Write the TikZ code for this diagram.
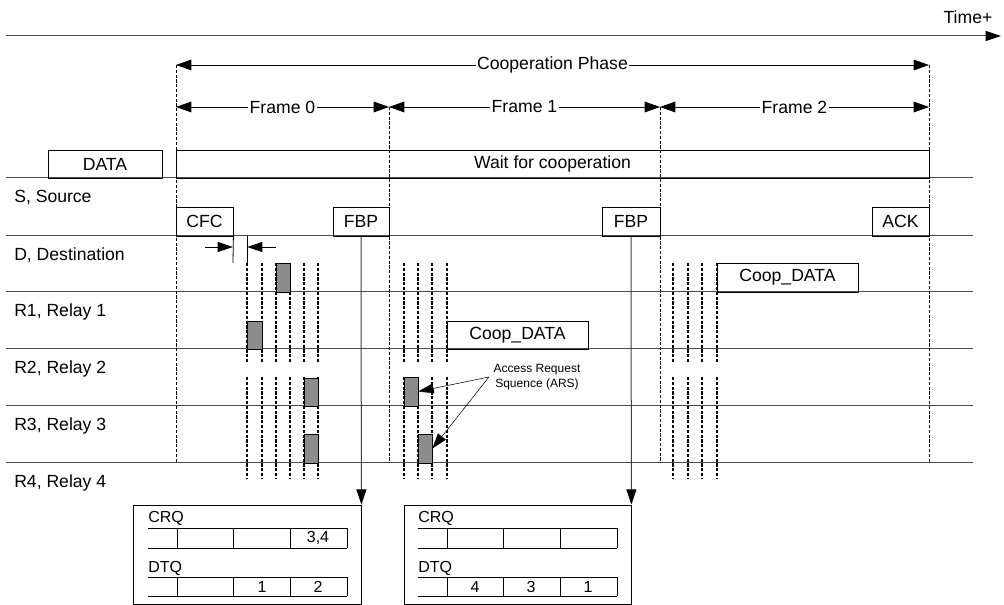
\documentclass[tikz,border=0pt]{standalone}
\usepackage{fontspec}
\setmainfont{Liberation Sans}
\usetikzlibrary{arrows.meta,fit}
\tikzset{
  arr/.style={-{Triangle[length=11.5pt,width=7.5pt,color=black]}},
  dimarrow/.style={{Triangle[length=11.5pt,width=8pt]}-{Triangle[length=11.5pt,width=8pt]},line width=0.6pt},
  lane/.style={line width=0.75pt,black!70},
  bound/.style={line width=0.7pt,dash pattern=on 2.4pt off 1.2pt},
  slot/.style={line width=0.9pt,dash pattern=on 2.4pt off 1.2pt},
  msg/.style={draw,line width=0.6pt,inner sep=0pt},
  msgtext/.style={label={[inner sep=0pt,font=\fontsize{13.2}{15}\selectfont]center:#1}},
  slotbox/.style={draw,line width=0.6pt,fill=black!45,inner sep=0pt},
  lbl/.style={fill=white,inner sep=1pt,font=\fontsize{13.2}{15}\selectfont},
  lanelabel/.style={anchor=base west,inner sep=0pt,font=\fontsize{13.2}{15}\selectfont},
  qtext/.style={inner sep=0pt,font=\fontsize{12}{14}\selectfont},
}
\begin{document}
\begin{tikzpicture}[x=0.75pt,y=-0.75pt]
\useasboundingbox (0,0) rectangle (1004,605);
% time axis
\coordinate (t0) at (6,36);
\coordinate (t1) at (1001,36);
\draw[arr,line width=0.75pt,black!70] (t0) to (t1);
\node[inner sep=0pt,font=\fontsize{13.2}{15}\selectfont] (time) at (968,17) {Time+};
% phase and frames
\coordinate (p0) at (176,65);
\coordinate (p1) at (929,65);
\draw[dimarrow] (p0) to node[lbl] (phase) {Cooperation Phase} (p1);
\foreach \i/\fx in {0/176,1/389,2/660,3/929} \coordinate (f\i) at (\fx,107);
\foreach \i/\j in {0/1,1/2,2/3} \draw[dimarrow] (f\i) to node[lbl] (frame\i) {Frame \i} (f\j);
% lanes
\foreach \ly in {178,236,292,349,406,463} \draw[lane] (6,\ly) to (973,\ly);
\foreach \ly/\name/\txt in {178/src/{S, Source},236/dst/{D, Destination},292/ra/{R1, Relay 1},349/rb/{R2, Relay 2},406/rc/{R3, Relay 3},463/rd/{R4, Relay 4}}
  \node[lanelabel] (lane\name) at (14,\ly+25) {\txt};
\foreach \bx/\ty in {176/65,389/107,660/107,929/65} \draw[bound] (\bx,\ty) to (\bx,463);
% slots
\foreach \sx in {247,262,276,290,304,318,404,418,432,447,673,688,702,717} {
  \draw[slot] (\sx,263) to (\sx,363);
  \draw[slot] (\sx,377) to (\sx,478);
}
\node[slotbox, fit={(276,263)(290,292)}] (dslot) {};
\node[slotbox, fit={(247,321)(262,349)}] (raslot) {};
\node[slotbox, fit={(304,378)(318,406)}] (rbslot) {};
\node[slotbox, fit={(304,434)(318,463)}] (rcslot) {};
\node[slotbox, fit={(404,377)(418,406)}] (rbreq) {};
\node[slotbox, fit={(418,434)(432,463)}] (rcreq) {};
% frames sent
\node[msg, fit={(48,150)(162,178)}, msgtext=DATA] (data) {};
\node[msg, fit={(176,150)(929,178)}, msgtext=Wait for cooperation] (wait) {};
\node[msg, fit={(176,207)(233,236)}, msgtext=CFC] (cfc) {};
\node[msg, fit={(333,207)(389,236)}, msgtext=FBP] (fbp0) {};
\node[msg, fit={(602,207)(660,236)}, msgtext=FBP] (fbp1) {};
\node[msg, fit={(872,207)(929,236)}, msgtext=ACK] (ack) {};
\node[msg, fit={(447,321)(588,349)}, msgtext=Coop\_DATA] (coopa) {};
\node[msg, fit={(717,263)(858,292)}, msgtext=Coop\_DATA] (coopb) {};
% gap after CFC
\coordinate (g0) at (233,247);
\coordinate (g1) at (247,247);
\coordinate (g0a) at (205,247);
\coordinate (g1a) at (276,247);
\draw[line width=0.6pt] (cfc.south east) to (233,263);
\draw[line width=0.6pt] (247,236) to (247,263);
\draw[arr,line width=0.6pt] (g0a) to (g0);
\draw[arr,line width=0.6pt] (g1a) to (g1);
% access request label
\node[align=center,font=\fontsize{9}{11}\selectfont] (arslbl) at (537,377) {Access Request\\Squence (ARS)};
\draw[arr,line width=0.4pt] (arslbl.west) to (rbreq.east);
\draw[arr,line width=0.4pt] (arslbl.west) to (rcreq.east);
% queues
\node[draw,line width=0.6pt,inner sep=0pt,fit={(133,505)(361,604)}] (q0) {};
\node[draw,line width=0.6pt,inner sep=0pt,fit={(404,505)(631,604)}] (q1) {};
\draw[arr,line width=0.75pt,black!75] (fbp0.south) to (q0.north east);
\draw[arr,line width=0.75pt,black!75] (fbp1.south) to (q1.north east);
\foreach \qx/\q in {148/0,418/1} {
  \node[qtext,anchor=base west] (crq\q) at (\qx,523) {CRQ};
  \node[qtext,anchor=base west] (dtq\q) at (\qx,573) {DTQ};
  \foreach \ry in {528,548,577,596} \draw[line width=0.6pt] (\qx,\ry) to (\qx+199,\ry);
  \foreach \d in {29,85,142,199} {
    \draw[line width=0.6pt] (\qx+\d,528) to (\qx+\d,548);
    \draw[line width=0.6pt] (\qx+\d,577) to (\qx+\d,596);
  }
}
\node[qtext] (crqa) at (318,538) {3,4};
\node[qtext] (dtqa) at (262,587) {1};
\node[qtext] (dtqb) at (318,587) {2};
\node[qtext] (dtqc) at (475,587) {4};
\node[qtext] (dtqd) at (531,587) {3};
\node[qtext] (dtqe) at (588,587) {1};
\end{tikzpicture}
\end{document}
